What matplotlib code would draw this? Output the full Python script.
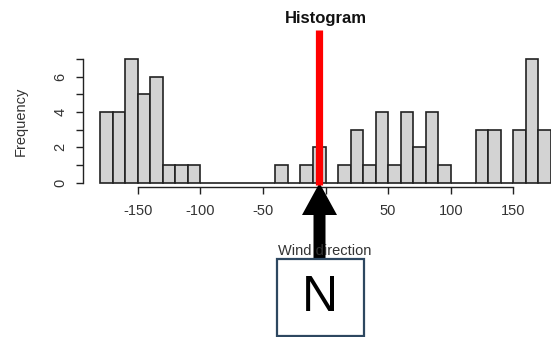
import matplotlib.pyplot as plt
import numpy as np
from matplotlib.patches import Rectangle, Polygon

plt.rcParams['font.family'] = ['Liberation Sans', 'DejaVu Sans']
plt.rcParams['axes.unicode_minus'] = False

# wind direction histogram, bins of 10 degrees from -180 to 180
bin_left = list(range(-180, 180, 10))
counts = [4, 4, 7, 5, 6, 1, 1, 1, 0, 0, 0, 0, 0, 0, 1, 0, 1, 2,
          0, 1, 3, 1, 4, 1, 4, 2, 4, 1, 0, 0, 3, 3, 0, 3, 7, 3]
x_ticks = [-150, -100, -50, 0, 50, 100, 150]
y_ticks = [0, 1, 2, 3, 4, 5, 6, 7]
y_labels = ['0', '', '2', '', '4', '', '6', '']

W, H = 551, 337
fig = plt.figure(figsize=(W / 100, H / 100), dpi=100)

# main histogram axes (pixel layout)
ax = fig.add_axes([100 / W, (H - 182.7) / H, (W - 100) / W, (182.7 - 59) / H])
ax.bar(bin_left, counts, width=10, align='edge', color='#d3d3d3',
       edgecolor='#222222', linewidth=1.2, clip_on=False)
ax.set_xlim(-180, 180)
ax.set_ylim(0, 7)
ax.spines['top'].set_visible(False)
ax.spines['right'].set_visible(False)
ax.spines['left'].set_position(('outward', 12.5))
ax.spines['bottom'].set_position(('outward', 3.4))
ax.spines['left'].set_bounds(0, 7)
ax.spines['bottom'].set_bounds(-150, 150)
for s in ('left', 'bottom'):
    ax.spines[s].set_linewidth(1.0)
    ax.spines[s].set_color('#222222')
ax.set_xticks(x_ticks)
ax.set_yticks(y_ticks)
ax.set_yticklabels(y_labels, rotation=90, va='center')
ax.tick_params(axis='both', length=5, width=1.0, color='#222222',
               labelsize=10.5, labelcolor='#333333')
ax.tick_params(axis='x', pad=7)
ax.tick_params(axis='y', pad=6)
ax.patch.set_alpha(0)

# overlay in pixel coordinates for the annotations
ov = fig.add_axes([0, 0, 1, 1])
ov.set_xlim(0, W)
ov.set_ylim(H, 0)
ov.axis('off')
ov.patch.set_alpha(0)

ov.text(326, 19, 'Histogram', ha='center', va='center', fontsize=12,
        fontweight='bold', color='#111111')
ov.text(21, 121, 'Frequency', ha='center', va='center', rotation=90,
        fontsize=10.5, color='#333333')
ov.text(325, 251, 'Wind direction', ha='center', va='center',
        fontsize=10.5, color='#333333')

# red north line
ov.plot([318.5, 318.5], [30, 185], color='#ff0000', linewidth=5.2,
        solid_capstyle='butt')

# black arrow pointing up to 0
arrow = [(319.5, 183), (337, 215), (325.5, 215), (325.5, 260),
         (313.5, 260), (313.5, 215), (302, 215)]
ov.add_patch(Polygon(arrow, closed=True, facecolor='black', edgecolor='none'))

# the "N" box
ov.add_patch(Rectangle((276.5, 258.5), 87, 77.5, facecolor='white',
                       edgecolor='#2d4760', linewidth=1.6))
ov.text(320, 298, 'N', ha='center', va='center', fontsize=36, color='black')

plt.savefig('out.png', dpi=100, facecolor='white')
